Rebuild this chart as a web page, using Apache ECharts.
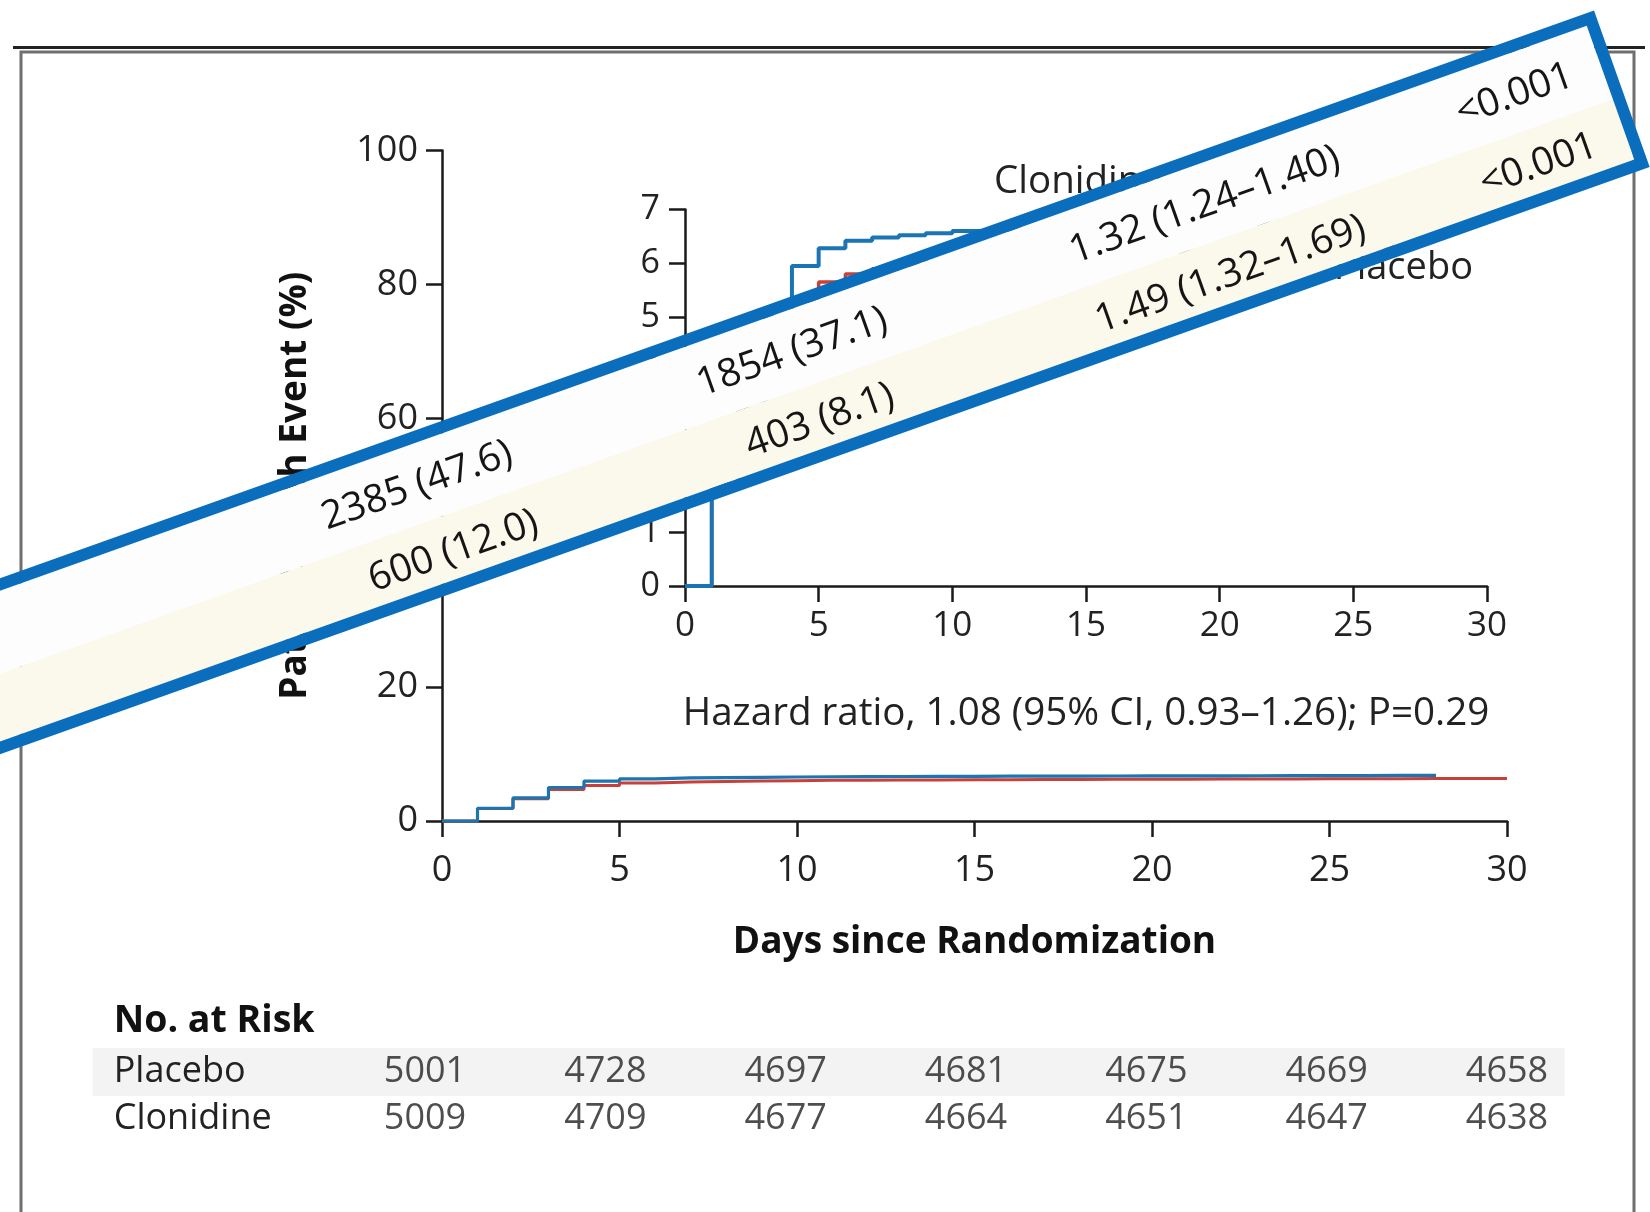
<!DOCTYPE html>
<html><head><meta charset="utf-8">
<script src="https://cdn.jsdelivr.net/npm/echarts@6/dist/echarts.min.js"></script>
<style>html,body{margin:0;padding:0;background:#fff;}#c{width:1650px;height:1212px;}</style>
</head><body><div id="c"></div>
<script>
// ---------------- data ----------------
const clonidineDays = [0,1,2,3,4,5,6,7,8,9,10,11,12,13,14,15,16,17,18,19,20,21,22,23,24,25,26,27,28];
const clonidinePct  = [0,1.9,3.45,5.0,5.95,6.28,6.42,6.48,6.52,6.56,6.60,6.62,6.64,6.66,6.67,6.68,6.69,6.70,6.71,6.72,6.73,6.74,6.75,6.76,6.77,6.78,6.79,6.80,6.82];
const placeboDays   = [0,1,2,3,4,5,6,7,8,9,10,11,12,13,14,15,16,17,18,19,20,21,22,23,24,25,26,27,28,29,30];
const placeboPct    = [0,1.85,3.3,4.7,5.3,5.65,5.8,5.9,5.97,6.02,6.06,6.09,6.11,6.13,6.15,6.17,6.19,6.2,6.22,6.23,6.24,6.26,6.27,6.28,6.29,6.3,6.31,6.32,6.33,6.34,6.35];
const insetLastDay  = 27;   // the inset curves stop before the end of follow-up
const riskDays      = [0,5,10,15,20,25,30];
const riskPlacebo   = [5001,4728,4697,4681,4675,4669,4658];
const riskClonidine = [5009,4709,4677,4664,4651,4647,4638];
const bannerRow1    = ['2385 (47.6)','1854 (37.1)','1.32 (1.24\u20131.40)','<0.001'];
const bannerRow2    = ['600 (12.0)','403 (8.1)','1.49 (1.32\u20131.69)','<0.001'];
const hazardText    = 'Hazard ratio, 1.08 (95% CI, 0.93\u20131.26); P=0.29';

// ---------------- style ----------------
const FF = '"Open Sans", "Noto Sans", sans-serif';
const BLUE = '#1b75b3', RED = '#c8403a', INK = '#1a1a1a';
const zip = (xs, ys) => xs.map((x, i) => [x, ys[i]]);
const upTo = (pts, d) => pts.filter(p => p[0] <= d);

const chart = echarts.init(document.getElementById('c'), null, {renderer: 'canvas'});

function axisCommon(fontSize, margin) {
  return {
    axisLine: {show: true, onZero: false, lineStyle: {color: INK, width: 2.5}},
    axisTick: {show: true, length: 16, lineStyle: {color: INK, width: 2.5}},
    axisLabel: {fontSize: fontSize, color: '#222', margin: margin, fontFamily: FF},
    splitLine: {show: false}
  };
}

const bannerCols = [[-1268, -870, -432, -103], [-1256, -867, -431, -104]];
const bannerRows = [53, 127];
const bannerTexts = [];
[bannerRow1, bannerRow2].forEach((row, r) => row.forEach((t, i) => bannerTexts.push({
  type: 'text', x: bannerCols[r][i], y: bannerRows[r], z: 103,
  style: {text: t, font: '39px ' + FF, fill: '#151515', align: 'center', verticalAlign: 'middle',
          textAlign: 'center', textVerticalAlign: 'middle'}
})));

const txt = (t, x, y, size, align, bold) => ({
  type: 'text', x: x, y: y, z: 5,
  style: {text: t, font: (bold ? 'bold ' : '') + size + 'px ' + FF, fill: bold ? '#111' : '#222',
          align: align, verticalAlign: 'middle', textAlign: align, textVerticalAlign: 'middle'}
});

const option = {
  backgroundColor: '#ffffff',
  animation: false,
  grid: [
    {left: 442, top: 150.5, width: 1065, height: 670.5},
    {left: 685, top: 209.5, width: 802, height: 376.5},
    {left: 425, top: 1071.5, width: 1082, height: 47.5}
  ],
  xAxis: [
    Object.assign({gridIndex: 0, type: 'value', min: 0, max: 30, interval: 5,
      name: 'Days since Randomization', nameLocation: 'middle', nameGap: 103,
      nameTextStyle: {fontSize: 37, fontWeight: 'bold', color: '#111', fontFamily: FF}}, axisCommon(36, 32)),
    Object.assign({gridIndex: 1, type: 'value', min: 0, max: 30, interval: 5}, axisCommon(35, 23)),
    {gridIndex: 2, type: 'value', min: 0, max: 30, show: false}
  ],
  yAxis: [
    Object.assign({gridIndex: 0, type: 'value', min: 0, max: 100, interval: 20,
      name: 'Patients with Event (%)', nameLocation: 'middle', nameGap: 128,
      nameTextStyle: {fontSize: 37, fontWeight: 'bold', color: '#111', fontFamily: FF}}, axisCommon(36, 24)),
    Object.assign({gridIndex: 1, type: 'value', min: 0, max: 7, interval: 1}, axisCommon(34, 25)),
    {gridIndex: 2, type: 'value', min: 0, max: 1, show: false}
  ],
  series: [
    {type: 'line', xAxisIndex: 0, yAxisIndex: 0, step: 'end', symbol: 'none', clip: false, z: 3,
     lineStyle: {color: RED, width: 3}, data: zip(placeboDays, placeboPct)},
    {type: 'line', xAxisIndex: 0, yAxisIndex: 0, step: 'end', symbol: 'none', clip: false, z: 4,
     lineStyle: {color: BLUE, width: 3.2}, data: zip(clonidineDays, clonidinePct)},
    {type: 'line', xAxisIndex: 1, yAxisIndex: 1, step: 'end', symbol: 'none', clip: false, z: 3,
     lineStyle: {color: RED, width: 3.5}, data: upTo(zip(placeboDays, placeboPct), insetLastDay)},
    {type: 'line', xAxisIndex: 1, yAxisIndex: 1, step: 'end', symbol: 'none', clip: false, z: 4,
     lineStyle: {color: BLUE, width: 4}, data: upTo(zip(clonidineDays, clonidinePct), insetLastDay)},
    {type: 'scatter', xAxisIndex: 2, yAxisIndex: 2, symbolSize: 1, itemStyle: {color: 'rgba(0,0,0,0)'}, z: 6,
     label: {show: true, position: 'inside', formatter: p => String(p.data[2]), fontSize: 36, color: '#222', fontFamily: FF},
     data: riskDays.map((d, i) => [d, 1, riskPlacebo[i]]).concat(riskDays.map((d, i) => [d, 0, riskClonidine[i]]))}
  ],
  graphic: [
    {type: 'rect', z: -10, shape: {x: 21, y: 52, width: 1613, height: 1200},
     style: {fill: '#ffffff', stroke: '#6f6f6f', lineWidth: 3}},
    {type: 'line', z: 1, shape: {x1: 13, y1: 47.5, x2: 1645, y2: 47.5}, style: {stroke: '#222', lineWidth: 3}},
    {type: 'rect', z: -5, shape: {x: 92.6, y: 1048, width: 1472, height: 48}, style: {fill: '#f3f3f3'}},
    txt('No. at Risk', 113.7, 1021, 37.5, 'left', true),
    txt('Placebo', 113.7, 1071.5, 36, 'left', false),
    txt('Clonidine', 113.7, 1119, 36, 'left', false),
    txt(hazardText, 1086, 714, 38.6, 'center', false),
    txt('Clonidine', 994, 182, 38.5, 'left', false),
    txt('Placebo', 1473, 268, 38, 'right', false),
    {type: 'group', x: 1594, y: 10.5, rotation: 0.3421, z: 100, children: [
      {type: 'rect', z: 100, shape: {x: -2400, y: 12, width: 2388, height: 78}, style: {fill: '#fdfdfd'}},
      {type: 'rect', z: 100, shape: {x: -2400, y: 90, width: 2388, height: 64}, style: {fill: '#fbf9ec'}},
      {type: 'rect', z: 102, shape: {x: -2400, y: 6, width: 2394, height: 154},
       style: {fill: 'none', stroke: '#0a6ebd', lineWidth: 12}}
    ].concat(bannerTexts)}
  ]
};
chart.setOption(option);
</script>
</body></html>
